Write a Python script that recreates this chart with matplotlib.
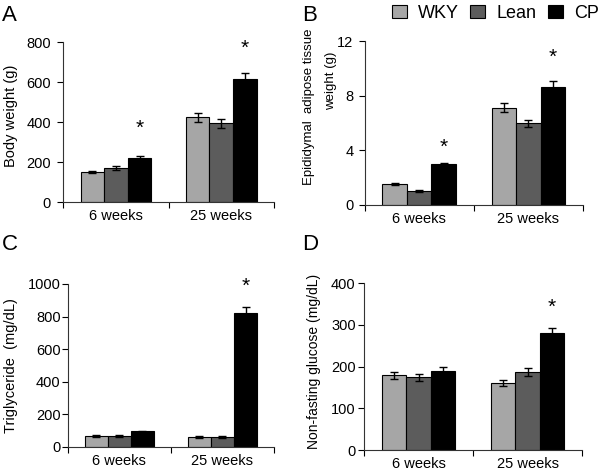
import matplotlib
matplotlib.use("Agg")
import matplotlib.pyplot as plt
import numpy as np

plt.rcParams['font.family'] = ['Liberation Sans', 'DejaVu Sans']

groups = ["6 weeks", "25 weeks"]
series = ["WKY", "Lean", "CP"]
colors = ["#a6a6a6", "#5c5c5c", "#000000"]

# Panel A: Body weight (g)
bw_mean = {"WKY": [151, 423], "Lean": [168, 393], "CP": [218, 614]}
bw_err = {"WKY": [5, 22], "Lean": [10, 24], "CP": [12, 30]}
bw_stars = [370, 770]

# Panel B: Epididymal adipose tissue weight (g)
eat_mean = {"WKY": [1.53, 7.13], "Lean": [1.02, 5.97], "CP": [3.02, 8.64]}
eat_err = {"WKY": [0.1, 0.34], "Lean": [0.08, 0.28], "CP": [0.06, 0.41]}
eat_stars = [4.24, 10.8]

# Panel C: Triglyceride (mg/dL)
tg_mean = {"WKY": [68, 62], "Lean": [68, 63], "CP": [97, 820]}
tg_err = {"WKY": [4, 5], "Lean": [4, 5], "CP": [2, 40]}
tg_stars = [None, 988]

# Panel D: Non-fasting glucose (mg/dL)
gl_mean = {"WKY": [179, 161], "Lean": [174, 187], "CP": [190, 280]}
gl_err = {"WKY": [8, 7], "Lean": [9, 9], "CP": [8, 13]}
gl_stars = [None, 341]

fig = plt.figure(figsize=(6.0, 4.73), dpi=100)

FS = 10.5
bar_w = 0.224


def panel(rect, means, errs, stars, ylim, yticks, ypad):
    ax = fig.add_axes(rect)
    x0 = np.array([0.5, 1.5])
    offsets = [-bar_w, 0.0, bar_w]
    for s, c, off in zip(series, colors, offsets):
        ax.bar(x0 + off, means[s], width=bar_w, color=c, edgecolor="black",
               linewidth=0.8, yerr=errs[s], capsize=3,
               error_kw=dict(elinewidth=1.0, capthick=1.0, ecolor="black"),
               zorder=2, label=s)
    for i, st in enumerate(stars):
        if st is not None:
            ax.text(x0[i] + bar_w, st, "*", ha="center", va="center",
                    fontsize=15, color="black")
    ax.set_xlim(0, 2)
    ax.set_ylim(*ylim)
    ax.set_yticks(yticks)
    ax.set_xticks([0, 1, 2])
    ax.set_xticklabels([])
    ax.set_xticks(x0, minor=True)
    ax.set_xticklabels(groups, minor=True, fontsize=FS)
    ax.tick_params(axis="x", which="minor", length=0, pad=5)
    ax.tick_params(axis="x", which="major", length=4, direction="out", width=0.8)
    ax.tick_params(axis="y", length=4, direction="out", width=0.8, labelsize=FS, pad=ypad)
    for sp in ["top", "right"]:
        ax.spines[sp].set_visible(False)
    for sp in ["left", "bottom"]:
        ax.spines[sp].set_linewidth(0.8)
        ax.spines[sp].set_color("#333333")
    return ax


axA = panel([0.1055, 0.5729, 0.351, 0.3383], bw_mean, bw_err, bw_stars,
            (0, 800), [0, 200, 400, 600, 800], 5)
axA.set_ylabel("Body weight (g)", fontsize=FS)
axA.yaxis.set_label_coords(-0.213, 0.54)

axB = panel([0.6075, 0.5666, 0.364, 0.3467], eat_mean, eat_err, eat_stars,
            (0, 12), [0, 4, 8, 12], 4)
axB.text(-0.254, 0.60, "Epididymal  adipose tissue", rotation=90, fontsize=9.5,
         ha="center", va="center", transform=axB.transAxes)
axB.text(-0.153, 0.76, "weight (g)", rotation=90, fontsize=9.5,
         ha="center", va="center", transform=axB.transAxes)

axC = panel([0.1128, 0.055, 0.344, 0.3446], tg_mean, tg_err, tg_stars,
            (0, 1000), [0, 200, 400, 600, 800, 1000], 1)
axC.set_ylabel("Triglyceride  (mg/dL)", fontsize=FS)
axC.yaxis.set_label_coords(-0.241, 0.5)

axD = panel([0.6067, 0.0486, 0.3633, 0.353], gl_mean, gl_err, gl_stars,
            (0, 400), [0, 100, 200, 300, 400], 2)
axD.set_ylabel("Non-fasting glucose (mg/dL)", fontsize=10)
axD.yaxis.set_label_coords(-0.197, 0.53)

# Panel letters
for lbl, (x, y) in zip("ABCD", [(0.003, 0.99), (0.503, 0.99), (0.003, 0.505), (0.503, 0.505)]):
    fig.text(x, y, lbl, fontsize=16, ha="left", va="top")

handles, labels = axA.get_legend_handles_labels()
fig.legend(handles, labels, loc="upper left", bbox_to_anchor=(0.647, 0.998),
           ncol=3, frameon=False, fontsize=13, handlelength=0.83,
           handleheight=0.75, handletextpad=0.6, columnspacing=0.65,
           borderaxespad=0.0, borderpad=0.2)

fig.savefig("out.png", dpi=100)
